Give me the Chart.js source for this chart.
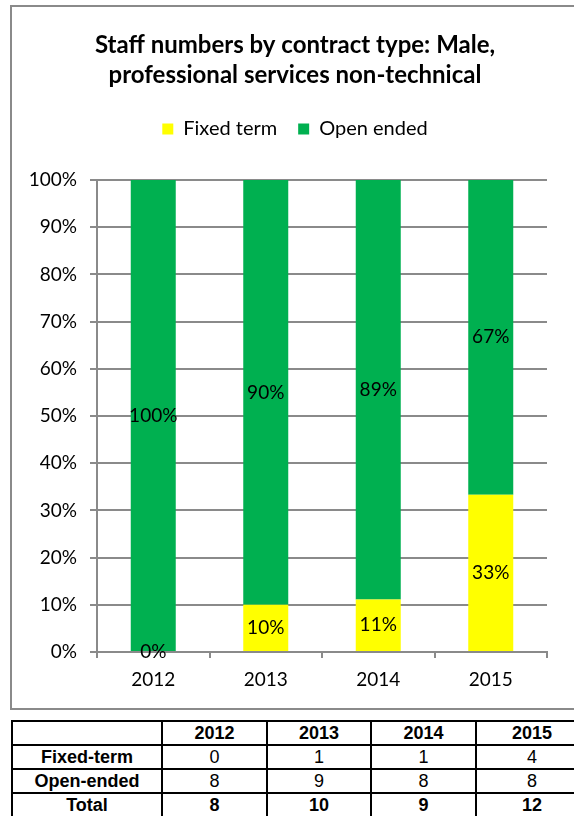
<!DOCTYPE html>
<html>
<head>
<meta charset="utf-8">
<script src="https://cdn.jsdelivr.net/npm/chart.js@4.4.1/dist/chart.umd.min.js"></script>
<style>
  html, body { margin: 0; padding: 0; background: #fff; overflow: hidden; }
  body { width: 574px; height: 816px; position: relative; }
  .frame { position: absolute; left: 10px; top: 5px; width: 620px; height: 701px; border: 2px solid #8a8a8a; }
  .chart-box { position: absolute; left: 0; top: 0; width: 600px; height: 708px; }
  table.counts {
    position: absolute; left: 11px; top: 720px;
    border-collapse: collapse; table-layout: fixed; width: 576px;
    font-family: "Liberation Sans", Arial, sans-serif; font-size: 18px; color: #000;
  }
  table.counts td { border: 2px solid #000; height: 22px; padding: 0; text-align: center; line-height: 22px; }
  table.counts td.b { font-weight: bold; }
</style>
</head>
<body>
<div class="frame"></div>
<div class="chart-box"><canvas id="contractChart" width="600" height="708"></canvas></div>
<table class="counts" id="countsTable">
  <colgroup><col style="width:150px"><col style="width:105px"><col style="width:104px"><col style="width:105px"><col style="width:112px"></colgroup>
  <tbody></tbody>
</table>
<script>
// data
const years = ['2012', '2013', '2014', '2015'];
const fixedTerm = [0, 1, 1, 4];
const openEnded = [8, 9, 8, 8];
const seriesNames = ['Fixed term', 'Open ended'];
const rowNames = ['Fixed-term', 'Open-ended', 'Total'];

const totals = years.map((_, i) => fixedTerm[i] + openEnded[i]);
const fixedPct = fixedTerm.map((v, i) => v / totals[i] * 100);
const openPct = openEnded.map((v, i) => v / totals[i] * 100);
const pctLabels = [fixedPct, openPct].map(arr => arr.map(v => Math.round(v) + '%'));

// counts table under the chart
const tbody = document.querySelector('#countsTable tbody');
const rows = [
  ['', ...years, true],
  [rowNames[0], ...fixedTerm, false],
  [rowNames[1], ...openEnded, false],
  [rowNames[2], ...totals, true]
];
rows.forEach(r => {
  const bold = r[r.length - 1];
  const cells = r.slice(0, -1);
  tbody.innerHTML += '<tr>' + cells.map((c, j) =>
    `<td class="${(bold || j === 0) ? 'b' : ''}">${c}</td>`).join('') + '</tr>';
});

const gray = '#8a8a8a';
const txt = '#000';
const lab = { family: 'Lato', size: 19 };

// pushes the plot down below the legend
const legendGap = {
  id: 'legendGap',
  beforeInit(chart) {
    const fit = chart.legend.fit;
    chart.legend.fit = function () { fit.bind(chart.legend)(); this.height += 31; };
  }
};

// percentage written in the middle of each segment
const segmentLabels = {
  id: 'segmentLabels',
  afterDatasetsDraw(chart) {
    const ctx = chart.ctx;
    ctx.save();
    ctx.font = '19px Lato';
    ctx.fillStyle = txt;
    ctx.textAlign = 'center';
    ctx.textBaseline = 'middle';
    chart.data.datasets.forEach((ds, di) => {
      chart.getDatasetMeta(di).data.forEach((bar, i) => {
        const p = bar.getProps(['x', 'y', 'base'], true);
        ctx.fillText(pctLabels[di][i], p.x, (p.y + p.base) / 2);
      });
    });
    ctx.restore();
  }
};

new Chart(document.getElementById('contractChart'), {
  type: 'bar',
  data: {
    labels: years,
    datasets: [
      { label: seriesNames[0], data: fixedPct, backgroundColor: '#FFFF00', borderWidth: 0, yAxisID: 'y' },
      { label: seriesNames[1], data: openPct, backgroundColor: '#00B050', borderWidth: 0, yAxisID: 'y' }
    ]
  },
  options: {
    responsive: false,
    animation: false,
    devicePixelRatio: 1,
    barPercentage: 0.4,
    categoryPercentage: 1,
    layout: { padding: { left: 12, right: 22, top: 0, bottom: 0 } },
    plugins: {
      title: {
        display: true,
        text: ['Staff numbers by contract type: Male,', 'professional services non-technical'],
        color: txt,
        font: { family: 'Lato', size: 24, weight: 'bold', lineHeight: '30px' },
        padding: { top: 30, bottom: 8 }
      },
      legend: {
        display: true,
        labels: { color: txt, font: { family: 'Lato', size: 20 }, boxWidth: 11, boxHeight: 11, padding: 21 }
      },
      tooltip: { enabled: false }
    },
    scales: {
      x: {
        stacked: true,
        grid: { display: true, drawOnChartArea: false, drawTicks: true, tickLength: 6, color: gray, lineWidth: 2 },
        border: { display: true, color: gray, width: 2 },
        ticks: { color: txt, font: lab, padding: 10 },
        afterFit(scale) { scale.height = 56; }
      },
      y: {
        stacked: true,
        min: 0,
        max: 100,
        grid: { color: gray, lineWidth: 2, tickLength: 7 },
        border: { display: true, color: gray, width: 2 },
        ticks: { stepSize: 10, color: txt, font: lab, padding: 13, callback: v => v + '%' },
        afterFit(scale) { scale.width = 85; }
      },
      // empty right-hand strip so the plot ends where the reference does
      yRight: {
        position: 'right',
        display: true,
        grid: { display: false },
        border: { display: false },
        ticks: { display: false },
        afterFit(scale) { scale.width = 31; }
      }
    }
  },
  plugins: [legendGap, segmentLabels]
});
</script>
</body>
</html>
